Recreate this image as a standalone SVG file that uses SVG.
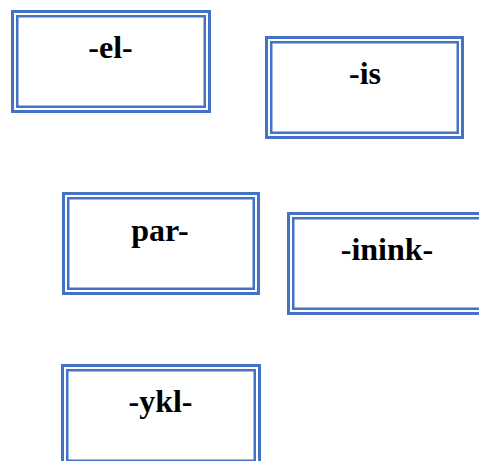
<svg xmlns="http://www.w3.org/2000/svg" width="479" height="461" viewBox="0 0 479 461">
<style>
.o{fill:#fff;stroke:#4472C4;stroke-width:3}
.i{fill:none;stroke:#4472C4;stroke-width:2.5}
.t{font-family:"Liberation Serif","Times New Roman",serif;font-weight:bold;font-size:32px;fill:#000;text-anchor:middle}
</style>
<rect width="479" height="461" fill="#fff"/>
<g id="n-el" transform="translate(11,10)">
<rect class="o" x="1.5" y="1.5" width="197" height="100"/>
<rect class="i" x="6.25" y="6.25" width="187.5" height="90.5"/>
<text class="t" x="99.5" y="48">-el-</text>
</g>
<g id="n-is" transform="translate(265,36)">
<rect class="o" x="1.5" y="1.5" width="196" height="100"/>
<rect class="i" x="6.25" y="6.25" width="186.5" height="90.5"/>
<text class="t" x="100" y="48">-is</text>
</g>
<g id="n-par" transform="translate(62,192)">
<rect class="o" x="1.5" y="1.5" width="195" height="100"/>
<rect class="i" x="6.25" y="6.25" width="185.5" height="90.5"/>
<text class="t" x="98" y="48.5">par-</text>
</g>
<g id="n-inink" transform="translate(287,212)">
<rect class="o" x="1.5" y="1.5" width="197" height="100"/>
<rect class="i" x="6.25" y="6.25" width="187.5" height="90.5"/>
<text class="t" x="100" y="47.5">-inink-</text>
</g>
<g id="n-ykl" transform="translate(61,364)">
<rect class="o" x="1.5" y="1.5" width="197" height="100"/>
<rect class="i" x="6.25" y="6.25" width="187.5" height="90.5"/>
<text class="t" x="99.5" y="48">-ykl-</text>
</g>
<g id="connectors"></g>
</svg>
